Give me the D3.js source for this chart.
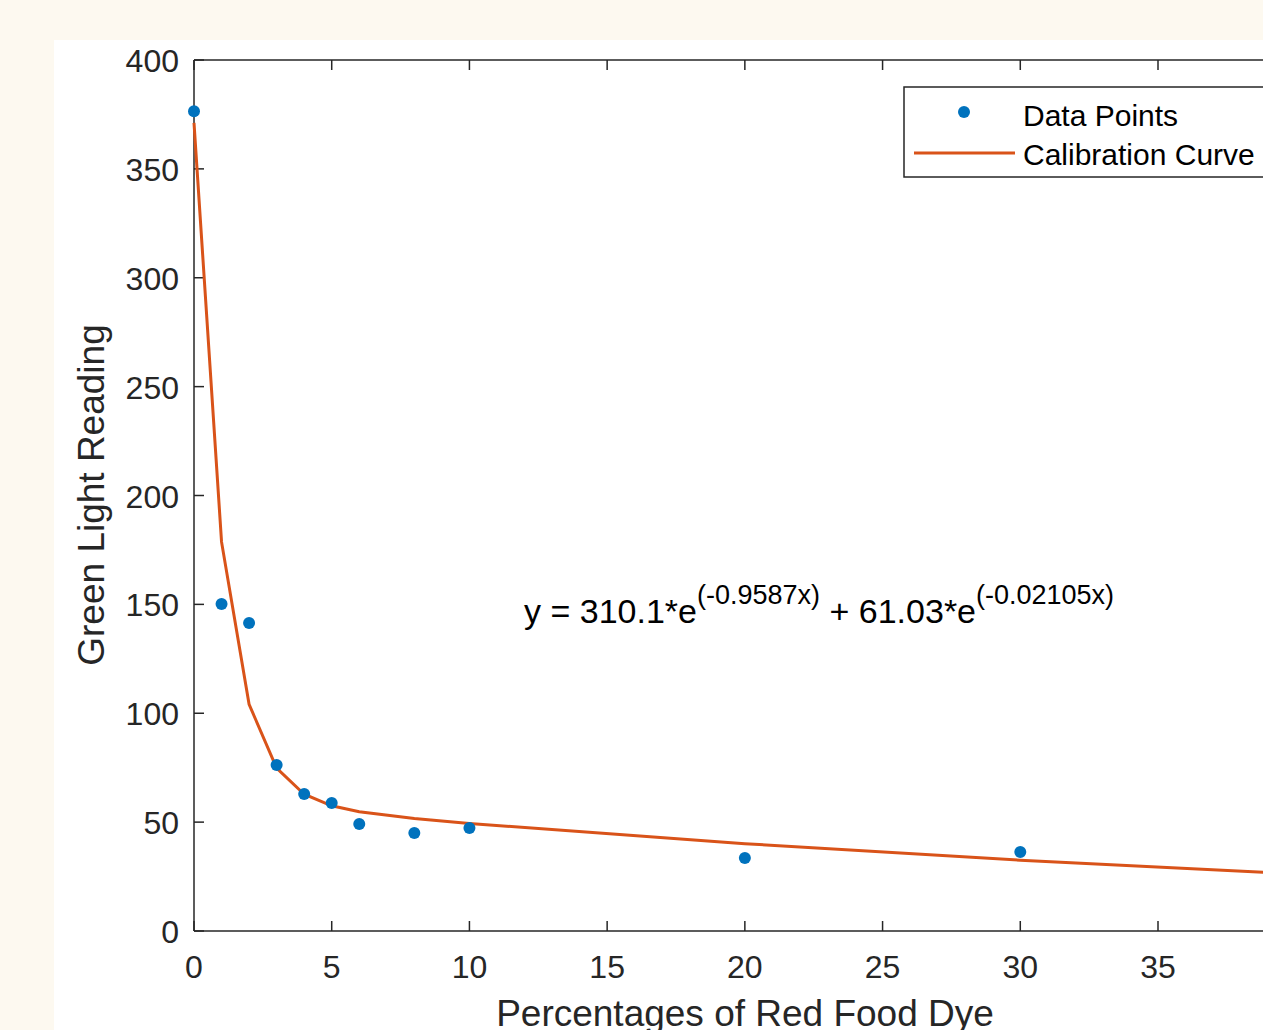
<!DOCTYPE html>
<html><head><meta charset="utf-8">
<script src="https://cdn.jsdelivr.net/npm/d3@7"></script>
<style>body{margin:0;background:#fdf9f0;overflow:hidden}svg{display:block}text{font-family:"Liberation Sans",Arial,Helvetica,sans-serif}</style>
</head><body>
<svg id="c" width="1263" height="1030"></svg>
<script>
const dataX = [0, 1, 2, 3, 4, 5, 6, 8, 10, 20, 30];
const dataY = [376.5, 150.2, 141.4, 76.2, 62.9, 58.8, 49.1, 45.0, 47.3, 33.5, 36.3];
const curveX = [0, 1, 2, 3, 4, 5, 6, 8, 10, 20, 30, 40];
const curveY = [371.1, 178.7, 104.1, 74.8, 62.8, 57.5, 54.8, 51.7, 49.4, 40.1, 32.5, 26.3];
const xTicks = [0, 5, 10, 15, 20, 25, 30, 35];
const yTicks = [0, 50, 100, 150, 200, 250, 300, 350, 400];
const legendLabels = ["Data Points", "Calibration Curve"];

const svg = d3.select("#c");
const axisCol = "#262626";
svg.append("rect").attr("width",1263).attr("height",1030).attr("fill","#fdf9f0");
svg.append("rect").attr("x",54).attr("y",40).attr("width",1300).attr("height",1000).attr("fill","#ffffff");

const x = d3.scaleLinear().domain([0,40]).range([194, 194 + 40*(1158-194)/35]);
const y = d3.scaleLinear().domain([0,400]).range([931, 60]);

// plot box
const g = svg.append("g");
g.append("line").attr("x1",x(0)).attr("x2",x(40)).attr("y1",y(0)).attr("y2",y(0)).attr("stroke",axisCol).attr("stroke-width",1.5);
g.append("line").attr("x1",x(0)).attr("x2",x(40)).attr("y1",y(400)).attr("y2",y(400)).attr("stroke",axisCol).attr("stroke-width",1.5);
g.append("line").attr("x1",x(0)).attr("x2",x(0)).attr("y1",y(0)).attr("y2",y(400)).attr("stroke",axisCol).attr("stroke-width",1.5);
g.append("line").attr("x1",x(40)).attr("x2",x(40)).attr("y1",y(0)).attr("y2",y(400)).attr("stroke",axisCol).attr("stroke-width",1.5);

// ticks
const tl = 10;
xTicks.forEach(t => {
  g.append("line").attr("x1",x(t)).attr("x2",x(t)).attr("y1",y(0)).attr("y2",y(0)-tl).attr("stroke",axisCol).attr("stroke-width",1.5);
  g.append("line").attr("x1",x(t)).attr("x2",x(t)).attr("y1",y(400)).attr("y2",y(400)+tl).attr("stroke",axisCol).attr("stroke-width",1.5);
  g.append("text").attr("x",x(t)).attr("y",978).attr("text-anchor","middle").attr("font-size",32).attr("fill",axisCol).text(t);
});
yTicks.forEach(t => {
  g.append("line").attr("x1",x(0)).attr("x2",x(0)+tl).attr("y1",y(t)).attr("y2",y(t)).attr("stroke",axisCol).attr("stroke-width",1.5);
  g.append("text").attr("x",179).attr("y",y(t)+12).attr("text-anchor","end").attr("font-size",32).attr("fill",axisCol).text(t);
});

// axis labels
svg.append("text").attr("x",745).attr("y",1026).attr("text-anchor","middle").attr("font-size",37).attr("fill",axisCol).text("Percentages of Red Food Dye");
svg.append("text").attr("transform","translate(104,495) rotate(-90)").attr("text-anchor","middle").attr("font-size",37).attr("fill",axisCol).text("Green Light Reading");

// curve
const line = d3.line().x(d=>x(d[0])).y(d=>y(d[1]));
svg.append("path").datum(curveX.map((v,i)=>[v,curveY[i]])).attr("d",line).attr("fill","none").attr("stroke","#D95319").attr("stroke-width",3);

// points
svg.selectAll("circle.pt").data(dataX.map((v,i)=>[v,dataY[i]])).enter().append("circle")
  .attr("cx",d=>x(d[0])).attr("cy",d=>y(d[1])).attr("r",6).attr("fill","#0072BD");

// annotation
const ann = svg.append("text").attr("x",524).attr("y",623).attr("font-size",34).attr("fill","#000");
ann.append("tspan").text("y = 310.1*e");
ann.append("tspan").attr("font-size",27).attr("dy",-19).text("(-0.9587x)");
ann.append("tspan").attr("dy",19).text(" + 61.03*e");
ann.append("tspan").attr("font-size",27).attr("dy",-19).text("(-0.02105x)");

// legend
const lg = svg.append("g");
lg.append("rect").attr("x",904).attr("y",87).attr("width",420).attr("height",90).attr("fill","#fff").attr("stroke",axisCol).attr("stroke-width",1.5);
lg.append("circle").attr("cx",964).attr("cy",112).attr("r",6).attr("fill","#0072BD");
lg.append("line").attr("x1",914).attr("x2",1015).attr("y1",153).attr("y2",153).attr("stroke","#D95319").attr("stroke-width",3);
lg.append("text").attr("x",1023).attr("y",126).attr("font-size",30).attr("fill","#000").text(legendLabels[0]);
lg.append("text").attr("x",1023).attr("y",165).attr("font-size",30).attr("fill","#000").text(legendLabels[1]);
</script>
</body></html>
